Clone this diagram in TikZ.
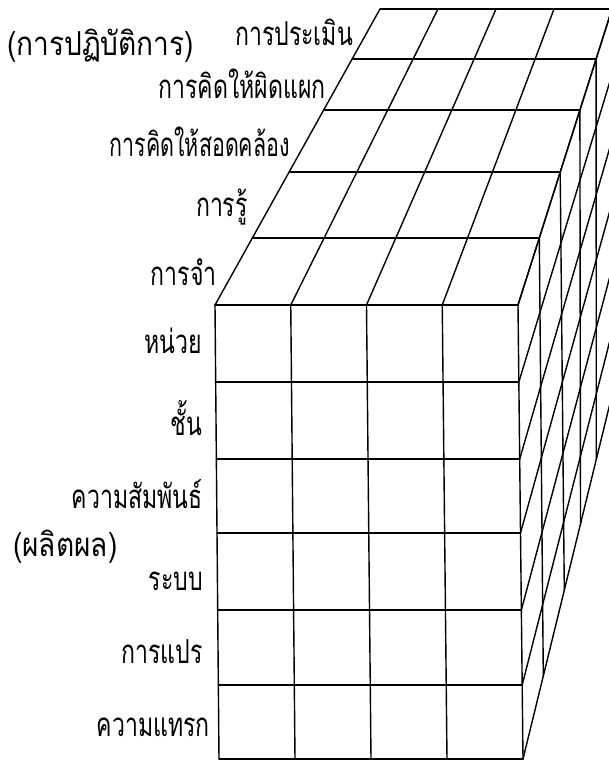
\documentclass[tikz,border=0pt]{standalone}
\usepackage{fontspec}
\newfontfamily\thaifont[Script=Thai]{Loma}
\newcommand{\thlab}[2][0.7]{\scalebox{#1}[1]{\thaifont\fontsize{33}{36}\selectfont #2}}
\begin{document}
\begin{tikzpicture}[x=1pt,y=-1pt,
  grid/.style={line width=1.4pt,line cap=round,line join=round},
  lbl/.style={inner sep=0pt,anchor=base east},
  lblw/.style={lbl,anchor=base west}]
\useasboundingbox (0,0) rectangle (609,761);
\fill[white] (0,0) rectangle (609,761);
\begin{scope}
\clip (0,0) rectangle (609,761);
% front face verticals
\foreach \c in {0,...,4}{
  \draw[grid] ({215+75.75*\c},305) -- ({219+76*\c},759);
}
% front face horizontals
\foreach \y in {305,382,459,533,610,685,759}{
  \pgfmathsetmacro\f{(\y-305)/454}
  \draw[grid] ({215+4*\f},\y) -- ({518+5*\f},\y);
}
% top face column lines
\foreach \c in {0,...,4}{
  \draw[grid] ({215+75.75*\c},305) -- ({380+58*\c},9);
}
% top face depth lines
\foreach \y in {238,172,110,59,9}{
  \pgfmathsetmacro\t{(305-\y)/296}
  \draw[grid] ({215+165*\t},\y) -- ({518+94*\t},\y);
}
% side face verticals
\draw[grid] (539.3,238) -- (543.3,676);
\draw[grid] (560.2,172) -- (564.3,590);
\draw[grid] (579.9,110) -- (580.5,524);
\draw[grid] (596.1,59) -- (596.3,459);
\draw[grid] (612,9) -- (611.3,398);
% side face row lines
\foreach \y in {305,382,459,533,610,685,759}{
  \pgfmathsetmacro\f{(\y-305)/454}
  \draw[grid] ({518+5*\f},\y) -- ({612-0.7*\f},{9+389*\f});
}
\end{scope}
% labels
\node[lblw] (perf) at (7,55) {\thlab[0.85]{(การปฏิบัติการ)}};
\node[lbl] (eval) at (353,45) {\thlab{การประเมิน}};
\node[lbl] (div) at (326,98) {\thlab{การคิดให้ผิดแผก}};
\node[lbl] (conv) at (290,156) {\thlab[0.65]{การคิดให้สอดคล้อง}};
\node[lbl] (cog) at (248,216) {\thlab{การรู้}};
\node[lbl] (mem) at (217,285) {\thlab{การจำ}};
\node[lbl] (unit) at (202,353) {\thlab{หน่วย}};
\node[lbl] (cls) at (202,435) {\thlab{ชั้น}};
\node[lbl] (rel) at (203,508) {\thlab{ความสัมพันธ์}};
\node[lblw] (prod) at (13,556) {\thlab[0.85]{(ผลิตผล)}};
\node[lbl] (sys) at (203,590) {\thlab{ระบบ}};
\node[lbl] (trans) at (203,663) {\thlab{การแปร}};
\node[lbl] (impl) at (210,736) {\thlab{ความแทรก}};
\end{tikzpicture}
\end{document}
